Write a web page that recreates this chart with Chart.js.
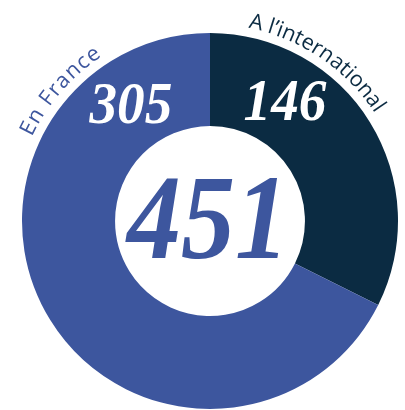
<!DOCTYPE html>
<html>
<head>
<meta charset="utf-8">
<script src="https://cdn.jsdelivr.net/npm/chart.js@4"></script>
<style>
  html, body { margin: 0; padding: 0; background: #ffffff; }
  #wrap { width: 405px; height: 410px; position: relative; }
</style>
</head>
<body>
<div id="wrap"><canvas id="c" width="405" height="410"></canvas></div>
<script>
// ---- data ----
const categories = ['A l\u2019international', 'En France'];
const values = [146, 305];
const totalLabel = '451';
const valueLabels = ['146', '305'];

// ---- style ----
const colors = ['#0b2b42', '#3d569e'];
const labelColors = ['#0b2b42', '#3d569e'];
const labelAngles = [34, -49];      // degrees from 12 o'clock, clockwise
const labelSpacing = [0, 1.2];
const valueAngles = [32, -34];
const serif = '"Liberation Serif", "DejaVu Serif", serif';
const sans = '"Open Sans", "Noto Sans", sans-serif';

function arcText(ctx, text, cx, cy, r, centerDeg, font, color, spacing) {
  ctx.save();
  ctx.font = font;
  ctx.fillStyle = color;
  ctx.textAlign = 'center';
  ctx.textBaseline = 'alphabetic';
  const chars = Array.from(text);
  const widths = chars.map(ch => ctx.measureText(ch).width);
  const total = widths.reduce((a, b) => a + b, 0) + spacing * (chars.length - 1);
  let a = centerDeg * Math.PI / 180 - total / r / 2;
  chars.forEach((ch, i) => {
    const w = widths[i];
    const mid = a + (w / 2) / r;
    ctx.save();
    ctx.translate(cx + r * Math.sin(mid), cy - r * Math.cos(mid));
    ctx.rotate(mid);
    ctx.fillText(ch, 0, 0);
    ctx.restore();
    a += (w + spacing) / r;
  });
  ctx.restore();
}

const labelsPlugin = {
  id: 'labelsPlugin',
  afterDatasetsDraw(chart) {
    const ctx = chart.ctx;
    const meta = chart.getDatasetMeta(0);
    const arc = meta.data[0];
    const cx = arc.x, cy = arc.y;
    const R = arc.outerRadius, r0 = arc.innerRadius;
    const midR = (R + r0) / 2;
    // curved category labels
    categories.forEach((name, i) => {
      arcText(ctx, name, cx, cy, R + 9, labelAngles[i], '400 21.5px ' + sans, labelColors[i], labelSpacing[i]);
    });
    // values in ring
    valueLabels.forEach((v, i) => {
      const t = valueAngles[i] * Math.PI / 180;
      const x = cx + midR * Math.sin(t);
      const y = cy - midR * Math.cos(t);
      const size = 60;
      ctx.save();
      ctx.font = 'italic 700 ' + size + 'px ' + serif;
      ctx.fillStyle = '#ffffff';
      ctx.textAlign = 'center';
      ctx.textBaseline = 'alphabetic';
      ctx.translate(x, y + size * 0.32);
      ctx.scale(0.92, 1);
      ctx.fillText(v, 0, 0);
      ctx.restore();
    });
    // total in the centre
    const size = 120;
    ctx.save();
    ctx.font = 'italic 700 ' + size + 'px ' + serif;
    ctx.fillStyle = colors[1];
    ctx.textAlign = 'center';
    ctx.textBaseline = 'alphabetic';
    ctx.translate(cx - 2, cy + size * 0.31);
    ctx.scale(0.9, 1);
    ctx.fillText(totalLabel, 0, 0);
    ctx.restore();
  }
};

new Chart(document.getElementById('c'), {
  type: 'doughnut',
  data: {
    labels: categories,
    datasets: [{
      data: values,
      backgroundColor: colors,
      borderWidth: 0,
      hoverOffset: 0
    }]
  },
  options: {
    responsive: false,
    animation: false,
    cutout: '50.5%',
    rotation: 0,
    layout: { padding: { left: 22, right: 7, top: 33, bottom: 1 } },
    plugins: {
      legend: { display: false },
      tooltip: { enabled: false }
    },
    events: []
  },
  plugins: [labelsPlugin]
});
</script>
</body>
</html>
